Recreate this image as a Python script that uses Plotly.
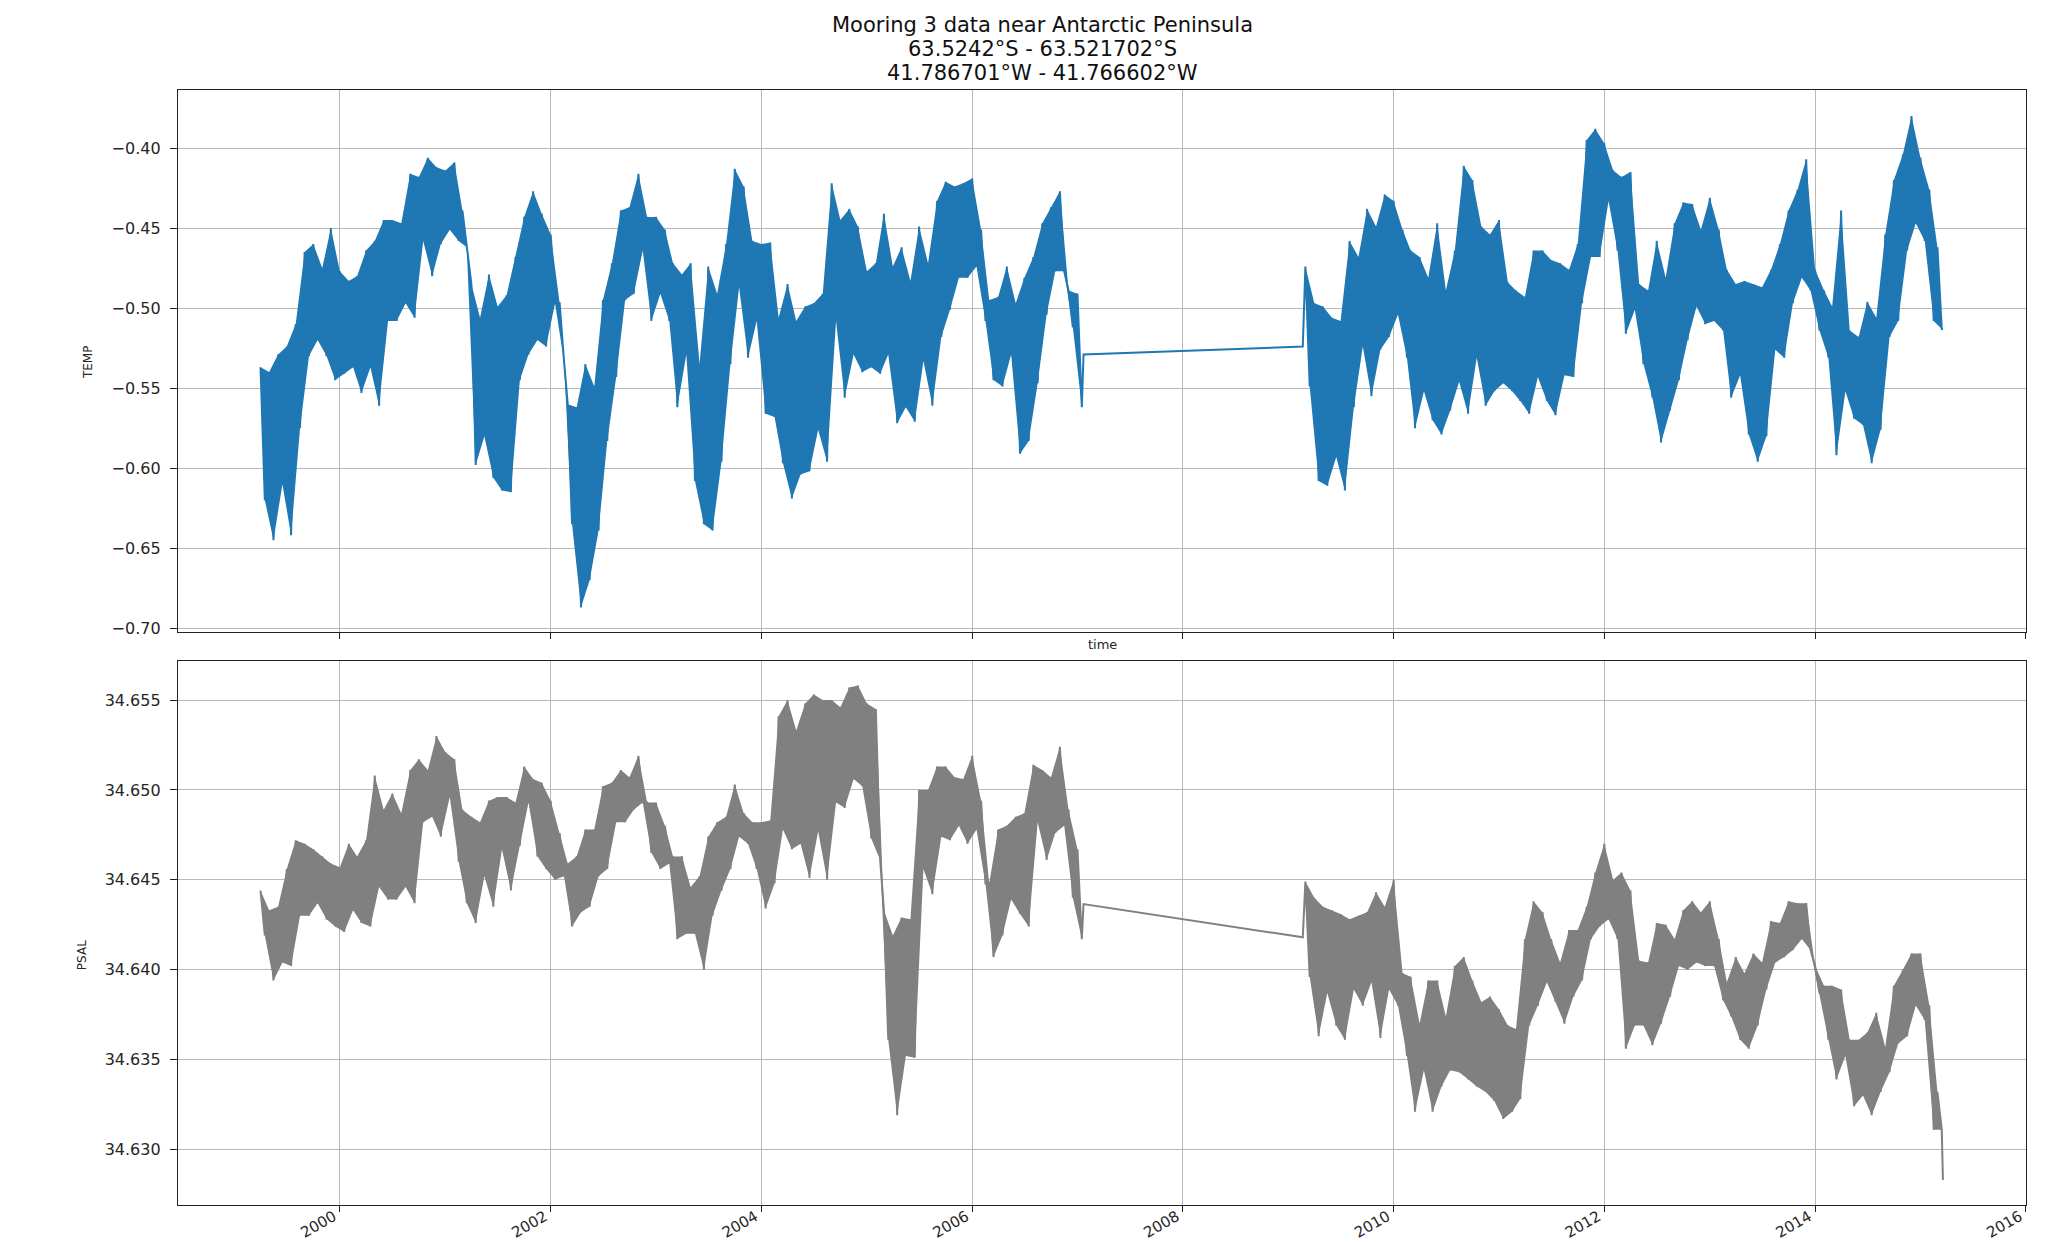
import pandas as pd
import plotly.graph_objects as go

# ---------------- data ----------------
SEG1_START = "1999-04-01"   # first monthly sample of deployment 1
SEG1_END_DATE = "2007-01-22"
SEG2_FIRST_DATE = "2009-02-20"
SEG2_START = "2009-03-01"   # first monthly sample of deployment 2
SEG2_END_DATE = "2015-03-20"

# monthly upper / lower envelope of TEMP, deployment 1
TEMP_SEG1_HI = [
    -0.537, -0.540, -0.529, -0.524, -0.510, -0.465, -0.460, -0.475, -0.450, -0.477,
    -0.483, -0.480, -0.464, -0.458, -0.445, -0.445, -0.447, -0.416, -0.418, -0.406,
    -0.412, -0.414, -0.409, -0.439, -0.485, -0.506, -0.479, -0.499, -0.492, -0.468,
    -0.443, -0.427, -0.441, -0.454, -0.497, -0.560, -0.562, -0.535, -0.549, -0.495,
    -0.472, -0.439, -0.437, -0.416, -0.443, -0.443, -0.451, -0.472, -0.479, -0.472,
    -0.535, -0.474, -0.491, -0.460, -0.413, -0.424, -0.458, -0.460, -0.459, -0.506,
    -0.485, -0.508, -0.499, -0.497, -0.491, -0.422, -0.445, -0.438, -0.449, -0.477,
    -0.472, -0.441, -0.474, -0.462, -0.483, -0.449, -0.472, -0.433, -0.421, -0.424,
    -0.422, -0.419, -0.451, -0.495, -0.493, -0.474, -0.497, -0.481, -0.468, -0.447,
    -0.437, -0.427, -0.489, -0.491,
]
TEMP_SEG1_LO = [
    -0.620, -0.645, -0.610, -0.642, -0.575, -0.530, -0.520, -0.530, -0.545, -0.541,
    -0.537, -0.553, -0.537, -0.561, -0.508, -0.508, -0.497, -0.506, -0.458, -0.480,
    -0.460, -0.451, -0.458, -0.462, -0.598, -0.580, -0.606, -0.614, -0.615, -0.545,
    -0.529, -0.520, -0.524, -0.497, -0.533, -0.635, -0.687, -0.670, -0.639, -0.583,
    -0.543, -0.495, -0.491, -0.464, -0.508, -0.491, -0.508, -0.562, -0.529, -0.608,
    -0.635, -0.639, -0.596, -0.535, -0.487, -0.531, -0.508, -0.566, -0.568, -0.597,
    -0.619, -0.604, -0.602, -0.576, -0.596, -0.508, -0.556, -0.529, -0.540, -0.537,
    -0.541, -0.529, -0.572, -0.562, -0.571, -0.533, -0.561, -0.518, -0.501, -0.481,
    -0.481, -0.474, -0.508, -0.545, -0.549, -0.529, -0.591, -0.583, -0.547, -0.504,
    -0.477, -0.477, -0.512, -0.562,
]
TEMP_SEG1_LAST = -0.529
TEMP_SEG2_FIRST = -0.524

# monthly upper / lower envelope of TEMP, deployment 2
TEMP_SEG2_HI = [
    -0.474, -0.497, -0.499, -0.506, -0.508, -0.458, -0.468, -0.438, -0.449, -0.429,
    -0.433, -0.451, -0.464, -0.468, -0.481, -0.447, -0.489, -0.464, -0.411, -0.420,
    -0.449, -0.454, -0.445, -0.484, -0.489, -0.493, -0.464, -0.464, -0.470, -0.472,
    -0.476, -0.460, -0.395, -0.388, -0.397, -0.414, -0.418, -0.415, -0.485, -0.489,
    -0.458, -0.481, -0.447, -0.434, -0.435, -0.451, -0.431, -0.451, -0.476, -0.485,
    -0.483, -0.485, -0.487, -0.476, -0.460, -0.439, -0.426, -0.407, -0.476, -0.489,
    -0.499, -0.439, -0.514, -0.518, -0.496, -0.506, -0.454, -0.420, -0.404, -0.380,
    -0.406, -0.426, -0.462,
]
TEMP_SEG2_LO = [
    -0.549, -0.608, -0.611, -0.593, -0.614, -0.562, -0.524, -0.555, -0.526, -0.518,
    -0.504, -0.531, -0.575, -0.552, -0.570, -0.579, -0.564, -0.546, -0.566, -0.531,
    -0.561, -0.552, -0.547, -0.552, -0.558, -0.566, -0.543, -0.558, -0.567, -0.542,
    -0.543, -0.497, -0.468, -0.468, -0.433, -0.464, -0.516, -0.501, -0.535, -0.556,
    -0.584, -0.564, -0.545, -0.520, -0.499, -0.510, -0.508, -0.514, -0.556, -0.542,
    -0.579, -0.596, -0.580, -0.526, -0.531, -0.497, -0.481, -0.489, -0.514, -0.531,
    -0.592, -0.552, -0.569, -0.573, -0.597, -0.576, -0.518, -0.508, -0.464, -0.447,
    -0.458, -0.508, -0.513,
]
TEMP_SEG2_LAST = -0.513

# monthly upper / lower envelope of PSAL, deployment 1
PSAL_SEG1_HI = [
    34.6444, 34.6433, 34.6435, 34.6456, 34.6472, 34.6470, 34.6467, 34.6463, 34.6459, 34.6457,
    34.6470, 34.6463, 34.6472, 34.6508, 34.6489, 34.6498, 34.6487, 34.6511, 34.6517, 34.6511,
    34.6530, 34.6521, 34.6517, 34.6489, 34.6485, 34.6482, 34.6494, 34.6496, 34.6496, 34.6493,
    34.6513, 34.6506, 34.6504, 34.6494, 34.6476, 34.6459, 34.6463, 34.6478, 34.6478, 34.6502,
    34.6504, 34.6511, 34.6507, 34.6519, 34.6493, 34.6493, 34.6480, 34.6463, 34.6463, 34.6446,
    34.6452, 34.6474, 34.6482, 34.6485, 34.6503, 34.6487, 34.6482, 34.6482, 34.6483, 34.6541,
    34.6550, 34.6533, 34.6548, 34.6553, 34.6550, 34.6550, 34.6546, 34.6557, 34.6558, 34.6548,
    34.6545, 34.6433, 34.6419, 34.6429, 34.6428, 34.6500, 34.6500, 34.6513, 34.6513, 34.6507,
    34.6506, 34.6519, 34.6494, 34.6448, 34.6478, 34.6480, 34.6485, 34.6487, 34.6514, 34.6511,
    34.6507, 34.6524, 34.6489, 34.6467,
]
PSAL_SEG1_LO = [
    34.6419, 34.6394, 34.6404, 34.6402, 34.6430, 34.6430, 34.6437, 34.6428, 34.6424, 34.6421,
    34.6433, 34.6426, 34.6424, 34.6446, 34.6439, 34.6439, 34.6446, 34.6437, 34.6482, 34.6485,
    34.6474, 34.6496, 34.6460, 34.6437, 34.6426, 34.6452, 34.6435, 34.6467, 34.6444, 34.6469,
    34.6493, 34.6463, 34.6456, 34.6450, 34.6452, 34.6424, 34.6432, 34.6435, 34.6452, 34.6456,
    34.6482, 34.6482, 34.6489, 34.6493, 34.6465, 34.6456, 34.6459, 34.6417, 34.6420, 34.6420,
    34.6400, 34.6430, 34.6444, 34.6456, 34.6474, 34.6470, 34.6456, 34.6434, 34.6448, 34.6478,
    34.6467, 34.6470, 34.6451, 34.6477, 34.6450, 34.6493, 34.6490, 34.6506, 34.6502, 34.6473,
    34.6461, 34.6361, 34.6319, 34.6352, 34.6351, 34.6456, 34.6442, 34.6474, 34.6472, 34.6480,
    34.6470, 34.6478, 34.6448, 34.6407, 34.6419, 34.6439, 34.6431, 34.6424, 34.6482, 34.6461,
    34.6476, 34.6480, 34.6440, 34.6417,
]
PSAL_SEG1_LAST = 34.64365
PSAL_SEG2_FIRST = 34.6418

# monthly upper / lower envelope of PSAL, deployment 2
PSAL_SEG2_HI = [
    34.6449, 34.6440, 34.6435, 34.6433, 34.6431, 34.6428, 34.6430, 34.6432, 34.6443, 34.6435,
    34.6450, 34.6398, 34.6396, 34.6370, 34.6394, 34.6394, 34.6374, 34.6402, 34.6407, 34.6394,
    34.6382, 34.6385, 34.6378, 34.6369, 34.6367, 34.6417, 34.6438, 34.6432, 34.6417, 34.6404,
    34.6422, 34.6422, 34.6435, 34.6454, 34.6470, 34.6450, 34.6454, 34.6444, 34.6405, 34.6404,
    34.6426, 34.6425, 34.6417, 34.6433, 34.6438, 34.6432, 34.6438, 34.6417, 34.6393, 34.6407,
    34.6398, 34.6409, 34.6404, 34.6427, 34.6426, 34.6438, 34.6437, 34.6437, 34.6402, 34.6391,
    34.6391, 34.6389, 34.6361, 34.6361, 34.6365, 34.6376, 34.6357, 34.6391, 34.6400, 34.6409,
    34.6409, 34.6380, 34.6332,
]
PSAL_SEG2_LO = [
    34.6396, 34.6363, 34.6387, 34.6369, 34.6361, 34.6389, 34.6380, 34.6393, 34.6362, 34.6389,
    34.6380, 34.6352, 34.6321, 34.6344, 34.6321, 34.6335, 34.6344, 34.6343, 34.6339, 34.6335,
    34.6332, 34.6327, 34.6317, 34.6321, 34.6328, 34.6369, 34.6380, 34.6393, 34.6382, 34.6370,
    34.6385, 34.6394, 34.6417, 34.6424, 34.6428, 34.6417, 34.6356, 34.6369, 34.6369, 34.6358,
    34.6370, 34.6385, 34.6402, 34.6400, 34.6404, 34.6402, 34.6402, 34.6383, 34.6374, 34.6361,
    34.6356, 34.6369, 34.6389, 34.6404, 34.6407, 34.6411, 34.6417, 34.6411, 34.6387, 34.6361,
    34.6339, 34.6352, 34.6324, 34.6330, 34.6319, 34.6332, 34.6343, 34.6359, 34.6363, 34.6380,
    34.6372, 34.6311, 34.6311,
]
PSAL_SEG2_LAST = 34.6283

TEMP_TICKS = [-0.70, -0.65, -0.60, -0.55, -0.50, -0.45, -0.40]
PSAL_TICKS = [34.630, 34.635, 34.640, 34.645, 34.650, 34.655]
YEAR_TICKS = ["2000", "2002", "2004", "2006", "2008", "2010", "2012", "2014", "2016"]

TITLE_LINES = [
    "Mooring 3 data near Antarctic Peninsula",
    "63.5242°S - 63.521702°S",
    "41.786701°W - 41.766602°W",
]


# ---------------- build the series ----------------
def times(start, n):
    t_hi = list(pd.date_range(start, periods=n, freq="MS"))
    t_lo = [t + pd.Timedelta(days=15) for t in t_hi]
    return t_hi, t_lo


def interleave(start, hi, lo):
    t_hi, t_lo = times(start, len(hi))
    xs, ys = [], []
    for a, b, c, d in zip(t_hi, hi, t_lo, lo):
        xs += [a, c]
        ys += [b, d]
    return xs, ys


def band(start, hi, lo):
    t_hi, t_lo = times(start, len(hi))
    return t_hi + t_lo[::-1], list(hi) + list(lo)[::-1]


def build(hi1, lo1, last1, first2, hi2, lo2, last2):
    x1, y1 = interleave(SEG1_START, hi1, lo1)
    x2, y2 = interleave(SEG2_START, hi2, lo2)
    xs = x1 + [pd.Timestamp(SEG1_END_DATE), pd.Timestamp(SEG2_FIRST_DATE)] + x2 + [pd.Timestamp(SEG2_END_DATE)]
    ys = y1 + [last1, first2] + y2 + [last2]
    return xs, ys


TEMP_COLOR = "#1f77b4"
PSAL_COLOR = "#808080"

fig = go.Figure()
for start, hi, lo in [(SEG1_START, TEMP_SEG1_HI, TEMP_SEG1_LO), (SEG2_START, TEMP_SEG2_HI, TEMP_SEG2_LO)]:
    bx, by = band(start, hi, lo)
    fig.add_trace(go.Scatter(x=bx, y=by, mode="lines", fill="toself", fillcolor=TEMP_COLOR,
                             line=dict(width=0, color=TEMP_COLOR), xaxis="x", yaxis="y",
                             hoverinfo="skip"))
for start, hi, lo in [(SEG1_START, PSAL_SEG1_HI, PSAL_SEG1_LO), (SEG2_START, PSAL_SEG2_HI, PSAL_SEG2_LO)]:
    bx, by = band(start, hi, lo)
    fig.add_trace(go.Scatter(x=bx, y=by, mode="lines", fill="toself", fillcolor=PSAL_COLOR,
                             line=dict(width=0, color=PSAL_COLOR), xaxis="x2", yaxis="y2",
                             hoverinfo="skip"))

tx, ty = build(TEMP_SEG1_HI, TEMP_SEG1_LO, TEMP_SEG1_LAST, TEMP_SEG2_FIRST,
               TEMP_SEG2_HI, TEMP_SEG2_LO, TEMP_SEG2_LAST)
px, py = build(PSAL_SEG1_HI, PSAL_SEG1_LO, PSAL_SEG1_LAST, PSAL_SEG2_FIRST,
               PSAL_SEG2_HI, PSAL_SEG2_LO, PSAL_SEG2_LAST)
fig.add_trace(go.Scatter(x=tx, y=ty, mode="lines", xaxis="x", yaxis="y",
                         line=dict(color=TEMP_COLOR, width=2), hoverinfo="skip"))
fig.add_trace(go.Scatter(x=px, y=py, mode="lines", xaxis="x2", yaxis="y2",
                         line=dict(color=PSAL_COLOR, width=2), hoverinfo="skip"))

XRANGE = ["1998-06-19", "2016-01-02"]
axis_common = dict(
    showline=True, linecolor="#222222", linewidth=1.3, mirror=True,
    ticks="outside", tickwidth=1.2, tickcolor="#222222",
    showgrid=True, gridcolor="#b8b8b8", gridwidth=1.2, zeroline=False,
    tickfont=dict(family="DejaVu Sans", size=16, color="#262626"),
    automargin=False,
)
# the page body has an 8 px margin, so the figure is shifted by 8 px
fig.update_layout(
    width=2057, height=1234,
    margin=dict(l=170, r=39, t=82, b=37),
    plot_bgcolor="white", paper_bgcolor="white",
    showlegend=False,
    font=dict(family="DejaVu Sans", color="#262626"),
    xaxis=dict(axis_common, domain=[0, 1], anchor="y", type="date", range=XRANGE,
               tickvals=YEAR_TICKS, showticklabels=False, ticklen=6),
    yaxis=dict(axis_common, domain=[0.5139, 1], anchor="x", range=[-0.7024, -0.3637],
               tickvals=TEMP_TICKS, tickformat=".2f", ticklen=7, ticklabelstandoff=6),
    xaxis2=dict(axis_common, domain=[0, 1], anchor="y2", type="date", range=XRANGE,
                tickvals=YEAR_TICKS, ticktext=YEAR_TICKS, tickangle=-30, ticklen=6,
                ticklabelstandoff=-10, ticklabelshift=-6,
                tickfont=dict(family="DejaVu Sans", size=15, color="#262626")),
    yaxis2=dict(axis_common, domain=[0, 0.4879], anchor="x2", range=[34.62691, 34.65717],
                tickvals=PSAL_TICKS, tickformat=".3f", ticklen=7, ticklabelstandoff=6),
)

# title lines
for text, yy in zip(TITLE_LINES, [1.0583, 1.0368, 1.0152]):
    fig.add_annotation(text=text, xref="paper", yref="paper", x=0.468, y=yy,
                       xanchor="center", yanchor="middle", showarrow=False,
                       font=dict(family="DejaVu Sans", size=21, color="#111111"))

# axis labels
fig.add_annotation(text="time", xref="paper", yref="paper", x=0.5, y=0.5031,
                   xanchor="center", yanchor="middle", showarrow=False,
                   font=dict(family="DejaVu Sans", size=13, color="#262626"))
fig.add_annotation(text="TEMP", xref="paper", yref="paper", x=-0.0487, y=0.756,
                   xanchor="center", yanchor="middle", textangle=-90, showarrow=False,
                   font=dict(family="DejaVu Sans", size=12, color="#262626"))
fig.add_annotation(text="PSAL", xref="paper", yref="paper", x=-0.052, y=0.224,
                   xanchor="center", yanchor="middle", textangle=-90, showarrow=False,
                   font=dict(family="DejaVu Sans", size=12, color="#262626"))

fig.write_html("out.html")
